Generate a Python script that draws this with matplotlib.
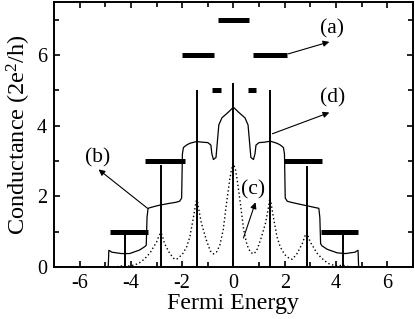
import matplotlib
matplotlib.use("Agg")
import matplotlib.pyplot as plt
from matplotlib.ticker import MultipleLocator

plt.rcParams['font.family'] = ['Liberation Serif', 'DejaVu Serif']
plt.rcParams['mathtext.fontset'] = 'custom'
plt.rcParams['mathtext.rm'] = 'Liberation Serif'
plt.rcParams['mathtext.it'] = 'Liberation Serif:italic'
plt.rcParams['axes.unicode_minus'] = False

# level bars (a): height, start, end
bar_y = [7, 6, 6, 5, 5, 3, 3, 1, 1]
bar_x0 = [-0.62, -2.02, 0.78, -0.82, 0.55, -3.43, 1.99, -4.83, 3.43]
bar_x1 = [0.62, -0.74, 2.08, -0.5, 0.88, -1.9, 3.47, -3.35, 4.87]

# sharp resonances
spike_x = [-4.23, -2.82, -1.42, 0.0, 1.42, 2.86, 4.27]
spike_h = [0.95, 2.88, 5.02, 5.2, 5.02, 2.86, 0.95]

# step curve (b)/(d)
step_x = [-7.0, -4.9, -4.88, -4.86, -4.8, -4.75, -4.36, -4.05, -3.66, -3.45, -3.4,
          -3.37, -3.33, -3.2, -2.88, -2.5, -2.25, -2.1, -2.02, -1.99, -1.95, -1.83,
          -1.7, -1.44, -1.2, -1.0, -0.88, -0.84, -0.78, -0.68, -0.62, -0.57, -0.45,
          -0.2, 0.0,
          0.2, 0.45, 0.57, 0.62, 0.68, 0.78, 0.84, 0.88, 1.0, 1.2, 1.44, 1.7, 1.83,
          1.95, 1.99, 2.02, 2.1, 2.25, 2.5, 2.88, 3.2, 3.33, 3.37, 3.4, 3.45, 3.66,
          4.05, 4.36, 4.75, 4.8, 4.86, 4.88, 4.9, 7.0]
step_y = [0.0, 0.0, 0.05, 0.47, 0.45, 0.42, 0.38, 0.38, 0.48, 0.58, 0.62,
          1.4, 1.66, 1.69, 1.75, 1.8, 1.83, 1.86, 1.95, 3.2, 3.38, 3.45,
          3.5, 3.55, 3.53, 3.52, 3.45, 3.2, 3.04, 3.1, 3.6, 4.02, 4.22,
          4.38, 4.52,
          4.38, 4.22, 4.02, 3.6, 3.1, 3.04, 3.2, 3.45, 3.52, 3.53, 3.56, 3.5, 3.45,
          3.38, 3.2, 1.95, 1.86, 1.83, 1.79, 1.73, 1.68, 1.66, 1.4, 0.66, 0.6, 0.5,
          0.4, 0.38, 0.42, 0.45, 0.47, 0.05, 0.0, 0.0]

# dotted curve (c)
dot_x = [-5.0, -4.7, -4.4, -4.25, -4.1, -3.9, -3.7, -3.55, -3.4, -3.25, -3.12, -3.0,
         -2.92, -2.84, -2.78, -2.69, -2.49, -2.3, -2.2, -2.0, -1.83, -1.7, -1.56,
         -1.47, -1.42, -1.37, -1.25, -1.05, -0.9, -0.78, -0.66, -0.53, -0.4, -0.27,
         -0.15, -0.08, 0.0,
         0.08, 0.15, 0.27, 0.4, 0.53, 0.66, 0.78, 0.9, 1.05, 1.25, 1.37, 1.42, 1.47,
         1.56, 1.7, 1.83, 2.0, 2.2, 2.3, 2.49, 2.69, 2.8, 2.86, 2.92, 3.0, 3.12, 3.25,
         3.4, 3.55, 3.7, 3.9, 4.1, 4.25, 4.4, 4.7, 5.0]
dot_y = [0.0, 0.0, 0.02, 0.06, 0.03, 0.05, 0.1, 0.18, 0.28, 0.4, 0.56, 0.7,
         0.85, 0.97, 0.9, 0.67, 0.39, 0.22, 0.23, 0.35, 0.56, 0.85, 1.4,
         1.8, 1.95, 1.7, 1.24, 0.75, 0.45, 0.37, 0.42, 0.62, 1.05, 1.8,
         2.45, 2.75, 2.93,
         2.75, 2.45, 1.8, 1.05, 0.62, 0.42, 0.37, 0.45, 0.75, 1.24, 1.7, 1.95, 1.8,
         1.4, 0.85, 0.56, 0.35, 0.23, 0.22, 0.39, 0.67, 0.9, 0.97, 0.85, 0.7, 0.56, 0.4,
         0.28, 0.18, 0.1, 0.05, 0.03, 0.06, 0.02, 0.0, 0.0]

fig = plt.figure(figsize=(4.15, 3.19), dpi=100)
ax = fig.add_axes([0.130, 0.163, 0.865, 0.831])

ax.plot(dot_x, dot_y, color='k', lw=1.0, linestyle=(0, (1, 1.8)))
ax.plot(step_x, step_y, color='k', lw=0.9)
ax.vlines(spike_x, 0, spike_h, color='k', lw=1.4)
ax.hlines(bar_y, bar_x0, bar_x1, color='k', lw=3.6)

arrow = dict(arrowstyle='-|>', color='k', lw=0.8, mutation_scale=9,
             shrinkA=0, shrinkB=0)
ax.annotate('', xy=(3.74, 6.37), xytext=(2.14, 6.03), arrowprops=arrow)
ax.text(3.86, 6.73, '(a)', fontsize=15.5, ha='center', va='center')
ax.annotate('', xy=(3.74, 4.37), xytext=(1.52, 3.77), arrowprops=arrow)
ax.text(3.86, 4.79, '(d)', fontsize=15.5, ha='center', va='center')
ax.annotate('', xy=(-5.26, 2.76), xytext=(-3.35, 1.66), arrowprops=arrow)
ax.text(-5.3, 3.1, '(b)', fontsize=15.5, ha='center', va='center')
ax.annotate('', xy=(0.86, 1.83), xytext=(0.39, 0.82), arrowprops=arrow)
ax.text(0.78, 2.17, '(c)', fontsize=15.5, ha='center', va='center')

ax.set_xlim(-7, 7)
ax.set_ylim(0, 7.5)
ax.xaxis.set_major_locator(MultipleLocator(2))
ax.xaxis.set_minor_locator(MultipleLocator(1))
ax.yaxis.set_major_locator(MultipleLocator(2))
ax.yaxis.set_minor_locator(MultipleLocator(1))
ax.tick_params(which='both', direction='in', top=True, right=True, width=1.2)
ax.tick_params(which='major', length=4, labelsize=14.5, pad=5)
ax.tick_params(which='minor', length=3.5)
for s in ax.spines.values():
    s.set_linewidth(1.4)

ax.set_xlabel('Fermi Energy', fontsize=17.2, labelpad=0)
ax.set_ylabel('Conductance (2e$^2$/h)', fontsize=17.5, labelpad=3)

fig.savefig('out.png', dpi=100)
